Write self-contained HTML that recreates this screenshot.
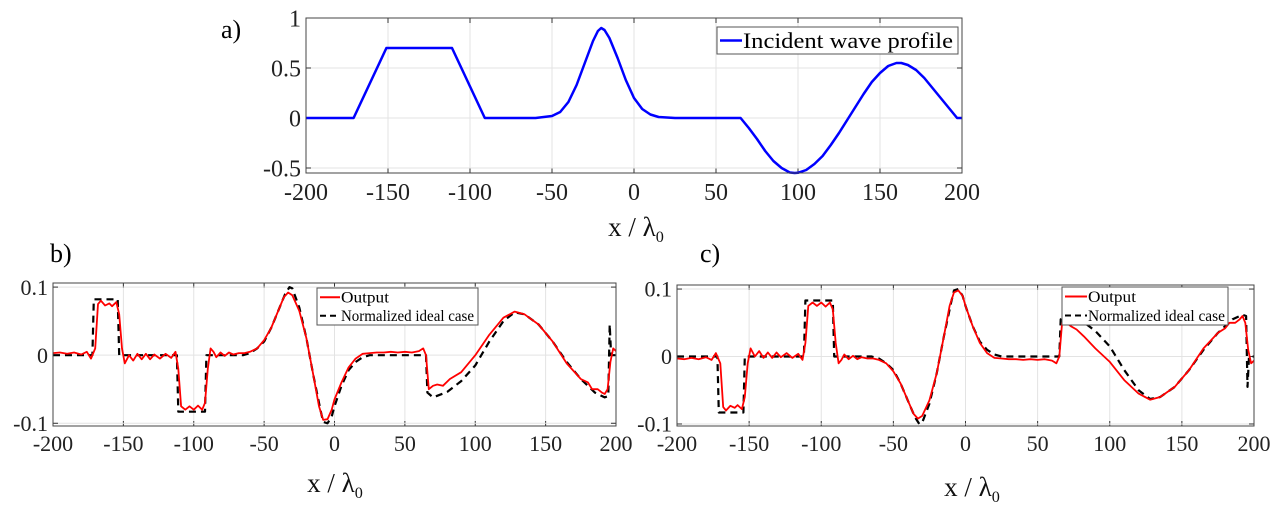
<!DOCTYPE html>
<html><head><meta charset="utf-8"><style>
html,body{margin:0;padding:0;background:#fff;}
svg{display:block;font-family:"Liberation Serif",serif;}
</style></head><body>
<svg id="s" width="1280" height="521" xmlns="http://www.w3.org/2000/svg">
<text x="221" y="38" font-size="26">a)</text>
<text x="50" y="262" font-size="26">b)</text>
<text x="700" y="262" font-size="26">c)</text>
</svg>
<script>
const xTicks=[-200,-150,-100,-50,0,50,100,150,200];
const aYTicks=[-0.5,0,0.5,1];
const aYLabels=['-0.5','0','0.5','1'];
const bcYTicks=[-0.1,0,0.1];
const bcYLabels=['-0.1','0','0.1'];
const aX=[-200,-171,-151,-111,-91,-60,-50,-45,-40,-35,-30,-25,-22,-20,-18,-15,-10,-5,0,5,10,15,25,65,70,75,80,85,90,95,98,100,105,110,115,120,125,130,135,140,145,150,155,160,163,167,172,177,182,187,192,197,200];
const aY=[0,0,0.7,0.7,0,0,0.02,0.06,0.16,0.33,0.55,0.77,0.87,0.9,0.88,0.8,0.6,0.38,0.2,0.09,0.035,0.01,0,0,-0.1,-0.21,-0.33,-0.43,-0.5,-0.545,-0.55,-0.548,-0.52,-0.46,-0.38,-0.27,-0.15,-0.02,0.11,0.24,0.36,0.45,0.52,0.55,0.55,0.53,0.48,0.4,0.3,0.2,0.1,0,0];
const bIdealX=[-200,-172,-171,-154,-153,-112,-111,-92,-91,-65,-60,-55,-50,-45,-40,-35,-32,-30,-25,-20,-15,-10,-8,-5,-2,0,5,10,15,20,25,65,66,70,80,90,100,110,120,128,135,145,155,165,175,185,192,194.5,195.5,196.5,200];
const bIdealY=[0,0,0.082,0.082,0,0,-0.083,-0.083,0,0,0.003,0.01,0.02,0.04,0.065,0.09,0.1,0.098,0.07,0.025,-0.03,-0.08,-0.098,-0.1,-0.09,-0.075,-0.045,-0.022,-0.01,-0.003,0,0,-0.055,-0.062,-0.054,-0.038,-0.015,0.02,0.05,0.063,0.06,0.045,0.02,-0.01,-0.035,-0.055,-0.062,-0.06,0.045,0,0];
const bOutX=[-200,-195,-190,-185,-180,-176,-173,-170,-168,-166,-163,-160,-158,-155,-153,-151,-149,-146,-143,-140,-137,-134,-131,-128,-124,-120,-116,-113,-111,-109,-106,-103,-100,-97,-94,-92,-90,-88,-86,-84,-81,-78,-75,-72,-68,-64,-60,-55,-50,-45,-40,-36,-33,-30,-25,-20,-15,-11,-8,-5,-2,0,5,10,15,20,25,30,35,40,45,50,55,60,63,65,67,70,73,77,82,90,100,110,120,128,135,145,155,165,175,180,183,187,190,192,194,196,198,200];
const bOutY=[0.003,0.004,0.002,0.004,0.001,0.005,-0.005,0.01,0.075,0.08,0.073,0.076,0.072,0.078,0.06,0.01,-0.012,0,-0.008,0.002,-0.006,0.002,-0.006,0.001,-0.005,0.002,-0.004,0.005,-0.02,-0.075,-0.08,-0.075,-0.08,-0.074,-0.08,-0.07,-0.02,0.01,0.005,-0.003,0.004,-0.001,0.004,0.001,0.003,0.003,0.005,0.01,0.022,0.04,0.065,0.085,0.092,0.088,0.065,0.025,-0.03,-0.075,-0.095,-0.094,-0.08,-0.065,-0.04,-0.018,-0.005,0.002,0.003,0.004,0.004,0.005,0.004,0.005,0.004,0.006,0.01,0,-0.05,-0.045,-0.043,-0.045,-0.035,-0.025,0.0,0.03,0.055,0.064,0.06,0.045,0.02,-0.012,-0.035,-0.04,-0.05,-0.05,-0.055,-0.057,-0.05,-0.01,0.01,0.006];
const cIdealX=[-200,-172,-171,-154,-153,-112,-111,-92,-91,-65,-60,-55,-50,-45,-40,-35,-32,-30,-25,-20,-15,-10,-8,-5,-2,0,5,10,15,20,25,65,66,70,80,90,100,110,120,128,135,145,155,165,175,185,192,194.5,195.5,196.5,200];
const cIdealY=[0,0,-0.083,-0.083,0,0,0.083,0.083,0,0,-0.003,-0.01,-0.02,-0.04,-0.065,-0.09,-0.1,-0.098,-0.07,-0.025,0.03,0.08,0.098,0.1,0.09,0.075,0.045,0.022,0.01,0.003,0,0,0.055,0.062,0.054,0.038,0.015,-0.02,-0.05,-0.063,-0.06,-0.045,-0.02,0.01,0.035,0.055,0.062,0.06,-0.045,0,0];
const cOutX=[-200,-195,-190,-185,-180,-176,-173,-170,-168,-166,-163,-160,-158,-155,-153,-151,-149,-146,-143,-140,-137,-134,-131,-128,-124,-120,-116,-113,-111,-109,-106,-103,-100,-97,-94,-92,-90,-88,-86,-84,-81,-78,-75,-72,-68,-64,-60,-55,-50,-45,-40,-36,-33,-30,-25,-20,-15,-11,-8,-5,-2,0,5,10,15,20,25,30,35,40,45,50,55,60,63,65,67,70,73,77,82,90,100,110,120,128,135,145,155,165,175,180,183,187,190,192,194,196,198,200];
const cOutY=[-0.003,-0.004,-0.002,-0.004,-0.001,-0.005,0.005,-0.01,-0.075,-0.08,-0.073,-0.076,-0.072,-0.078,-0.06,-0.01,0.012,0,0.008,-0.002,0.006,-0.002,0.006,-0.001,0.005,-0.002,0.004,-0.005,0.02,0.075,0.08,0.075,0.08,0.074,0.08,0.07,0.02,-0.01,-0.005,0.003,-0.004,0.001,-0.004,-0.001,-0.003,-0.003,-0.005,-0.01,-0.022,-0.04,-0.065,-0.085,-0.092,-0.088,-0.065,-0.025,0.03,0.075,0.095,0.098,0.09,0.075,0.045,0.02,0.005,-0.002,-0.003,-0.004,-0.004,-0.005,-0.004,-0.005,-0.004,-0.006,-0.01,0,0.05,0.05,0.045,0.04,0.03,0.012,-0.008,-0.035,-0.055,-0.064,-0.06,-0.045,-0.02,0.012,0.035,0.042,0.05,0.05,0.055,0.06,0.05,0.01,-0.01,-0.006];

const svg=document.getElementById('s');
const NS='http://www.w3.org/2000/svg';
function mk(tag,attrs,parent){const e=document.createElementNS(NS,tag);for(const k in attrs)e.setAttribute(k,attrs[k]);(parent||svg).appendChild(e);return e;}

function panel(p){
  const g=mk('g',{});
  
  
  const sx=v=>p.L+(v-(-200))/400*(p.R-p.L);
  const sy=v=>p.B-(v-p.ymin)/(p.ymax-p.ymin)*(p.B-p.T);
  mk('rect',{x:p.L,y:p.T,width:p.R-p.L,height:p.B-p.T,fill:'#fff'},g);
  xTicks.forEach(t=>{
    const gl=mk('line',{x1:sx(t),x2:sx(t),y1:p.T,y2:p.B,stroke:'#e3e3e3','stroke-width':1},g);
    
    
    mk('line',{x1:sx(t),x2:sx(t),y1:p.B,y2:p.B-5,stroke:'#333'},g);
    mk('line',{x1:sx(t),x2:sx(t),y1:p.T,y2:p.T+5,stroke:'#333'},g);
    const tx=mk('text',{x:sx(t),y:p.B+p.fs+3,'font-size':p.fs,'text-anchor':'middle',fill:'#222'},g);
    tx.textContent=String(t);
    
    
  });
  p.yt.forEach((t,i)=>{
    const gl=mk('line',{x1:p.L,x2:p.R,y1:sy(t),y2:sy(t),stroke:'#e3e3e3'},g);
    
    
    mk('line',{x1:p.L,x2:p.L+5,y1:sy(t),y2:sy(t),stroke:'#333'},g);
    mk('line',{x1:p.R,x2:p.R-5,y1:sy(t),y2:sy(t),stroke:'#333'},g);
    const tx=mk('text',{x:p.L-5,y:sy(t)+p.fs*0.35,'font-size':p.fs,'text-anchor':'end',fill:'#222'},g);
    tx.textContent=p.yl[i];
    
    
  });
  p.series.forEach(s=>{
    let d='';s.x.forEach((v,i)=>{d+=(i?'L':'M')+sx(v).toFixed(1)+','+sy(s.y[i]).toFixed(1);});
    const pa=mk('path',{d:d,fill:'none',stroke:s.c,'stroke-width':s.w,'stroke-dasharray':s.dash||'none','stroke-linejoin':'round'},g);
    
    
  });
  mk('rect',{x:p.L,y:p.T,width:p.R-p.L,height:p.B-p.T,fill:'none',stroke:'#444','stroke-width':1},g);
  const lab=mk('text',{x:p.xlx,y:p.xly,'font-size':p.lfs,'text-anchor':'middle',fill:'#111'},g);
  lab.innerHTML='x / λ<tspan font-size="'+(p.lfs*0.6)+'" dy="6">0</tspan>';
  
  
  return g;
}

panel({name:'panel-a-chart',L:306,R:962,T:18,B:173,ymin:-0.55,ymax:1,yt:aYTicks,yl:aYLabels,fs:24,lfs:27,xlx:636,xly:236,
  series:[{name:'incident-wave-line',x:aX,y:aY,c:'#0000ff',w:2.5}]});
panel({name:'panel-b-chart',L:53,R:616,T:283,B:426,ymin:-0.104,ymax:0.106,yt:bcYTicks,yl:bcYLabels,fs:22,lfs:27,xlx:335,xly:492,
  series:[{name:'ideal-case-line',x:bIdealX,y:bIdealY,c:'#000',w:2.2,dash:'7,5'},{name:'output-line',x:bOutX,y:bOutY,c:'#ff0000',w:1.8}]});
panel({name:'panel-c-chart',L:677,R:1254,T:285,B:426,ymin:-0.103,ymax:0.106,yt:bcYTicks,yl:bcYLabels,fs:22,lfs:27,xlx:972,xly:496,
  series:[{name:'ideal-case-line',x:cIdealX,y:cIdealY,c:'#000',w:2.2,dash:'7,5'},{name:'output-line',x:cOutX,y:cOutY,c:'#ff0000',w:1.8}]});

function legend(name,x,y,w,h,items,fs,lw){
  const g=mk('g',{});
  
  
  mk('rect',{x:x,y:y,width:w,height:h,fill:'#fff',stroke:'#555'},g);
  items.forEach((it,i)=>{
    const yy=y+h/items.length*(i+0.5);
    mk('line',{x1:x+3,x2:x+3+lw,y1:yy,y2:yy,stroke:it.c,'stroke-width':it.w,'stroke-dasharray':it.dash||'none'},g);
    const t=mk('text',{x:x+4+lw,y:yy+fs*0.33,'font-size':fs,fill:'#000',textLength:it.len,lengthAdjust:'spacingAndGlyphs'},g);
    t.textContent=it.t;
    
    
  });
}
legend('legend-a',717,27,241,27,[{t:'Incident wave profile',c:'#0000ff',w:2.5,len:210}],22,22);
legend('legend-b',317,288,161,37,[{t:'Output',c:'#ff0000',w:2,len:48},{t:'Normalized ideal case',c:'#000',w:2,dash:'6,4',len:133}],16,20);
legend('legend-c',1062,287,166,38,[{t:'Output',c:'#ff0000',w:2,len:48},{t:'Normalized ideal case',c:'#000',w:2,dash:'6,4',len:137}],16,22);
</script>
</body></html>
